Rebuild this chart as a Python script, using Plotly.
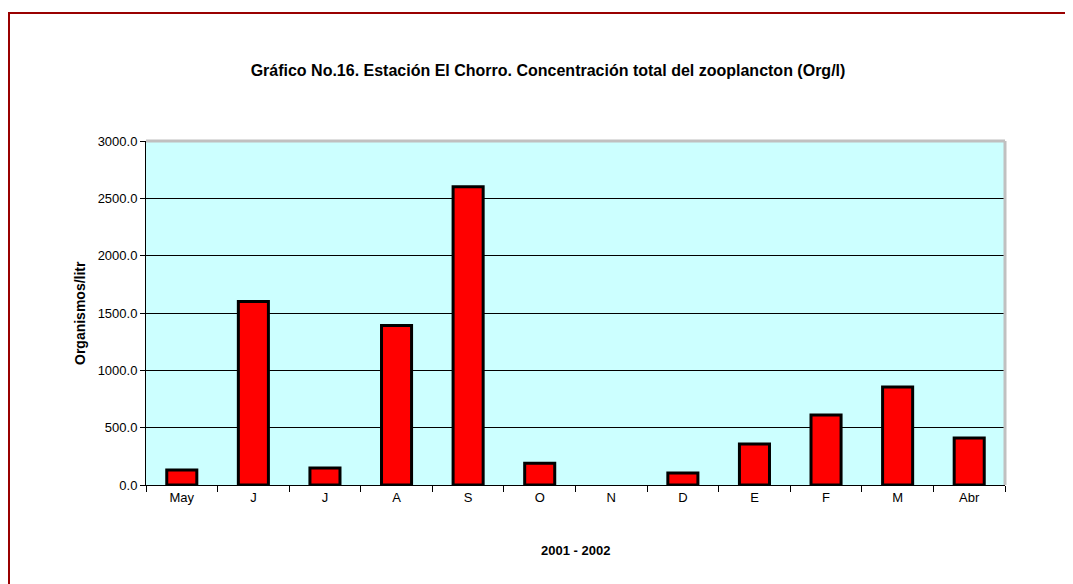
import plotly.graph_objects as go

months = ["May", "J ", "J  ", "A", "S", "O", "N", "D", "E", "F", "M", "Abr"]
tick_labels = ["May", "J", "J", "A", "S", "O", "N", "D", "E", "F", "M", "Abr"]
values = [130, 1600, 148, 1390, 2600, 190, None, 105, 357, 610, 854, 410]
y_ticks = [0, 500, 1000, 1500, 2000, 2500, 3000]
y_tick_text = ["0.0", "500.0", "1000.0", "1500.0", "2000.0", "2500.0", "3000.0"]

FONT = "Liberation Sans Narrow, Arial Narrow, Liberation Sans, Arial, sans-serif"
OFF = 8  # page body margin
W, H = 1073 - OFF, 584 - OFF
L, R, T, B = 146 - OFF, 1005 - OFF, 141 - OFF, 485 - OFF

def px(x):
    return (x - OFF - L) / (R - L)

def py(y):
    return (B - (y - OFF)) / (B - T)

fig = go.Figure()
fig.add_trace(go.Bar(
    x=months, y=values, width=0.42,
    marker=dict(color="#FF0000", line=dict(color="black", width=3)),
))

fig.update_layout(
    width=W, height=H,
    margin=dict(l=L, r=W - R, t=T, b=H - B),
    paper_bgcolor="white",
    plot_bgcolor="#CCFFFF",
    showlegend=False,
    title=dict(
        text="<b>Gráfico No.16. Estación El Chorro. Concentración total del zooplancton (Org/l)</b>",
        x=(548 - OFF) / W, xanchor="center", y=1 - (70 - OFF) / H, yanchor="middle",
        font=dict(family=FONT, size=16, color="black"),
    ),
    xaxis=dict(
        type="category", tickmode="array", tickvals=months, ticktext=tick_labels,
        tickson="boundaries", ticks="outside", ticklen=6, tickcolor="black",
        showline=True, linecolor="black", linewidth=1,
        showgrid=False, tickfont=dict(family=FONT, size=13, color="black"),
        range=[-0.5, 11.5],
    ),
    yaxis=dict(
        range=[0, 3000], tickmode="array", tickvals=y_ticks, ticktext=y_tick_text,
        ticks="outside", ticklen=5, tickcolor="black",
        showline=True, linecolor="black", linewidth=1,
        showgrid=True, gridcolor="black", gridwidth=1, zeroline=False,
        tickfont=dict(family=FONT, size=13, color="black"),
    ),
    annotations=[
        dict(text="<b>Organismos/litr</b>", textangle=-90, xref="paper", yref="paper",
             x=px(80), y=py(313), showarrow=False, xanchor="center", yanchor="middle",
             font=dict(family="Liberation Sans, Arial, sans-serif", size=14, color="black")),
        dict(text="<b>2001 - 2002</b>", xref="paper", yref="paper",
             x=px(575), y=py(550), showarrow=False, xanchor="center", yanchor="middle",
             font=dict(family=FONT, size=13, color="black")),
    ],
    shapes=[
        dict(type="line", xref="paper", yref="paper", x0=0, x1=1, y0=1, y1=1,
             line=dict(color="#C0C0C0", width=3)),
        dict(type="line", xref="paper", yref="paper", x0=1, x1=1, y0=0, y1=1,
             line=dict(color="#C0C0C0", width=3)),
        dict(type="rect", xref="paper", yref="paper", layer="above",
             x0=px(7 + 2), x1=px(1100), y0=py(12 + 1), y1=py(620),
             line=dict(color="#990000", width=2), fillcolor="rgba(0,0,0,0)"),
    ],
)

fig.write_html("out.html")
